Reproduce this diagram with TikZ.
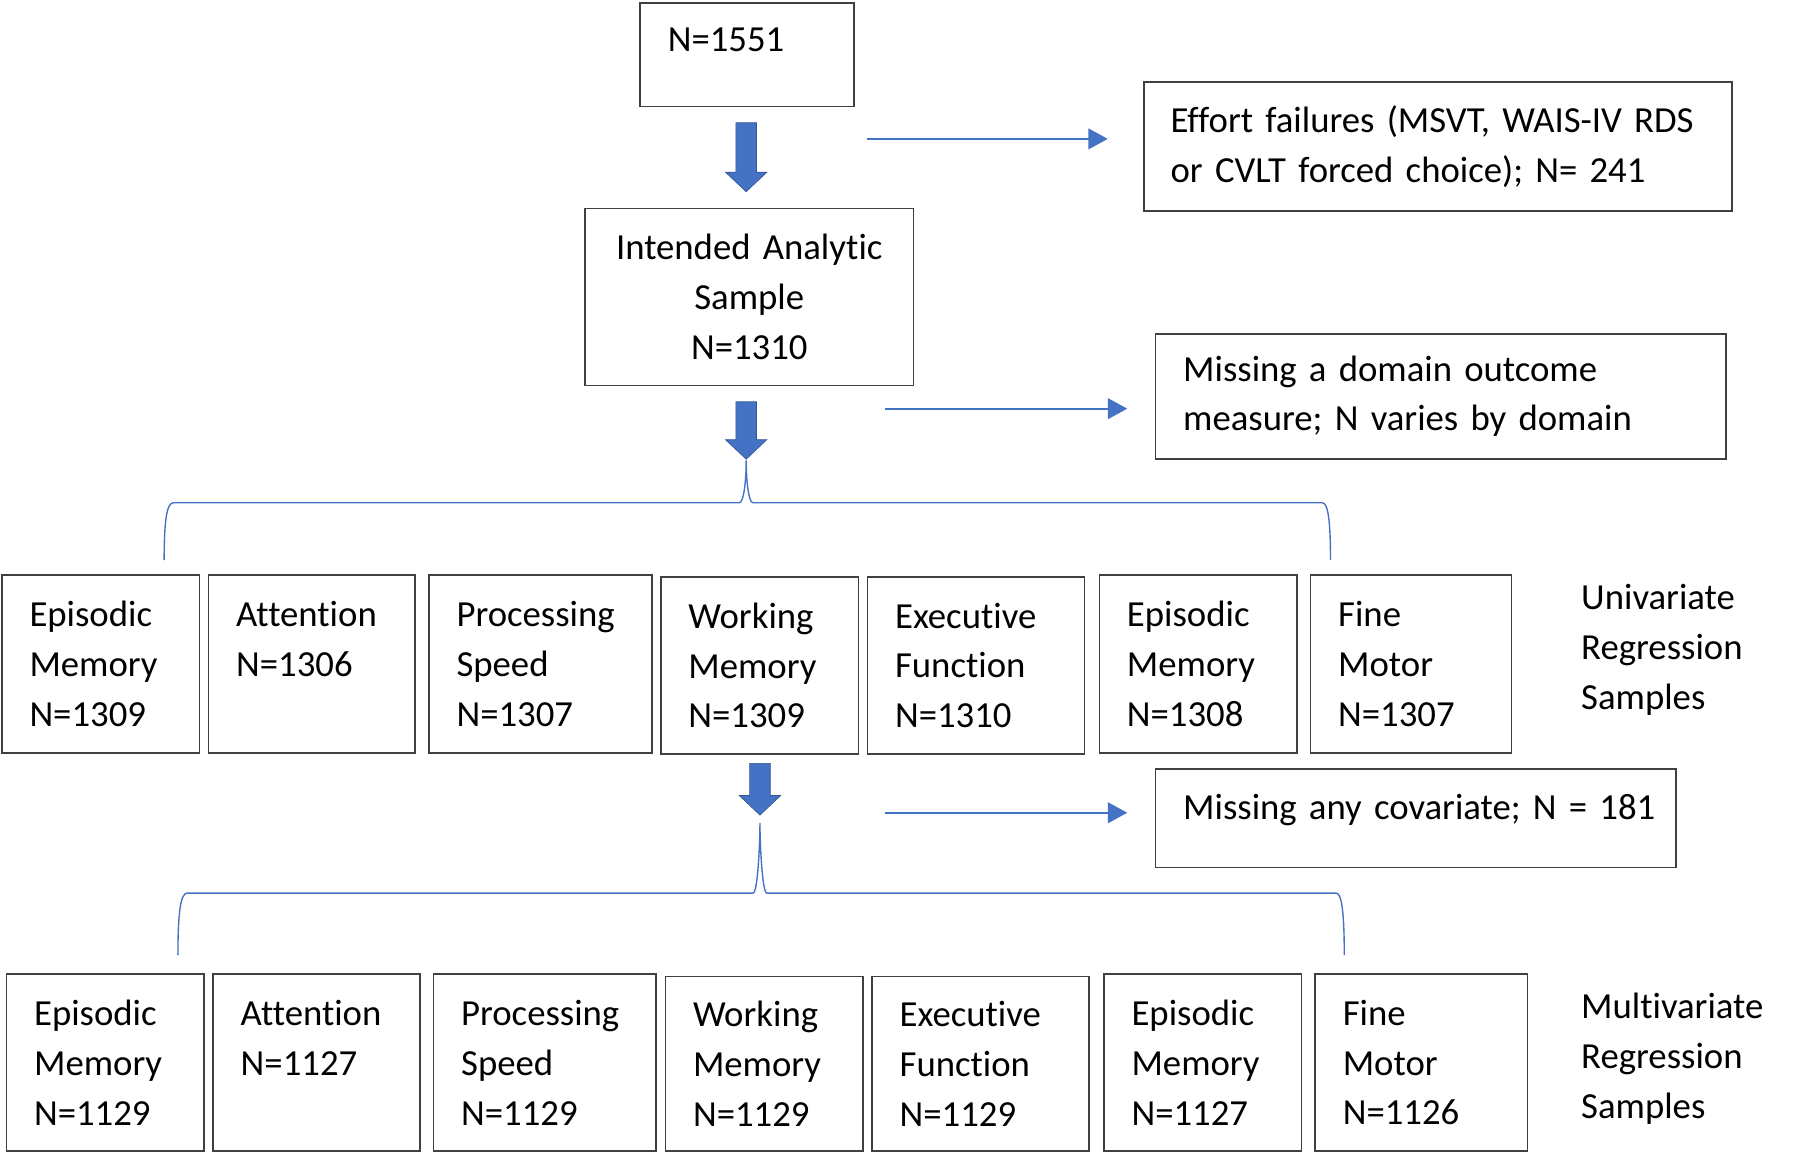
\documentclass[tikz,border=0pt]{standalone}
\usepackage{fontspec}
\setmainfont{Carlito}[Ligatures=NoCommon]
\usepackage{tikz}
\usetikzlibrary{arrows.meta, positioning}
\definecolor{flowblue}{RGB}{68,114,196}
\definecolor{boxgray}{RGB}{64,64,64}
\tikzset{
	x=0.5pt, y=-0.5pt,
	box/.style={draw=boxgray, line width=0.7pt, rectangle, anchor=north west, align=left, inner xsep=12pt, inner ysep=0pt},
	sidetext/.style={align=left, anchor=west, inner sep=0pt},
	bigarrow/.style={fill=flowblue, draw=flowblue!75!black, line width=0.3pt},
	thinarrow/.style={draw=flowblue, line width=1pt, -{Triangle[length=8.5pt,width=9pt]}},
	bracket/.style={draw=flowblue, line width=0.6pt},
}

\begin{document}
\begin{tikzpicture}[font=\fontsize{16}{21.7}\selectfont]
			\useasboundingbox (0,0) rectangle (1568,1005);
			
			\node[box, text width=69pt, minimum height=45pt, text height=10.5pt, text depth=13pt] (N1551) at (557,2) {N=1551};
			\node[box, inner xsep=11.5pt, text width=233pt, minimum height=56pt] (EFFORT) at (996,71) {Effort failures (MSVT, WAIS-IV RDS\\or CVLT forced choice); N= 241};
			\node[box, align=center, inner xsep=4pt, text width=135pt, minimum height=77pt] (INTENDED) at (509,181) {Intended Analytic\\Sample\\N=1310};
			\node[box, text width=224.5pt, minimum height=54.5pt] (DOMAIN) at (1006,290) {Missing a domain outcome\\measure; N varies by domain};
			\node[box, text width=202.5pt, minimum height=43pt, text height=10.5pt, text depth=9.5pt] (COVARIATE) at (1006,669) {\mbox{Missing any covariate; N = 181}};
			
			\node[box, text width=62pt, minimum height=77.5pt] (U1) at (1,500) {Episodic\\Memory\\N=1309};
			\node[box, text width=66pt, minimum height=77.5pt] (U2) at (181,500) {Attention\\N=1306\\\mbox{}};
			\node[box, text width=73pt, minimum height=77.5pt] (U3) at (373,500) {Processing\\Speed\\N=1307};
			\node[box, text width=62pt, minimum height=77pt] (U4) at (575,502) {Working\\Memory\\N=1309};
			\node[box, text width=70.5pt, minimum height=77pt] (U5) at (755,502) {Executive\\Function\\N=1310};
			\node[box, text width=62pt, minimum height=77.5pt] (U6) at (957,500) {Episodic\\Memory\\N=1308};
			\node[box, text width=63.5pt, minimum height=77.5pt] (U7) at (1141,500) {Fine\\Motor\\N=1307};
			\node[sidetext] (UNI) at (1377,566) {Univariate\\Regression\\Samples};
			
			\node[box, text width=62pt, minimum height=77pt] (M1) at (5,848) {Episodic\\Memory\\N=1129};
			\node[box, text width=66pt, minimum height=77pt] (M2) at (185,848) {Attention\\N=1127\\\mbox{}};
			\node[box, text width=73pt, minimum height=77pt] (M3) at (377,848) {Processing\\Speed\\N=1129};
			\node[box, text width=62pt, minimum height=76pt] (M4) at (579,850) {Working\\Memory\\N=1129};
			\node[box, text width=70.5pt, minimum height=76pt] (M5) at (759,850) {Executive\\Function\\N=1129};
			\node[box, text width=62pt, minimum height=77pt] (M6) at (961,848) {Episodic\\Memory\\N=1127};
			\node[box, text width=68.5pt, minimum height=77pt] (M7) at (1145,848) {Fine\\Motor\\N=1126};
			\node[sidetext] (MULTI) at (1377,922) {Multivariate\\Regression\\Samples};
			
			\coordinate (B1) at (650,107);
			\coordinate (B2) at (650,350);
			\coordinate (B3) at (662,665);
			\fill[bigarrow] (B1) ++(-9,0) -- ++(18,0) -- ++(0,43) -- ++(9,0) -- ++(-18,17) -- ++(-18,-17) -- ++(9,0) -- cycle;
			\fill[bigarrow] (B2) ++(-9,0) -- ++(18,0) -- ++(0,33) -- ++(9,0) -- ++(-18,17) -- ++(-18,-17) -- ++(9,0) -- cycle;
			\fill[bigarrow] (B3) ++(-9,0) -- ++(18,0) -- ++(0,28) -- ++(9,0) -- ++(-18,17) -- ++(-18,-17) -- ++(9,0) -- cycle;
			
			\coordinate (E1a) at (755,121);
			\coordinate (E1b) at (965,121);
			\coordinate (E2a) at (771,356);
			\coordinate (E2b) at (982,356);
			\coordinate (E3a) at (771,708);
			\coordinate (E3b) at (982,708);
			\draw[thinarrow] (E1a) -- (E1b);
			\draw[thinarrow] (E2a) -- (E2b);
			\draw[thinarrow] (E3a) -- (E3b);
			
			\draw[bracket] (143,488) .. controls (143,455) and (145,438) .. (151,438) -- (644,438) .. controls (648,438) and (650,418) .. (650,401) .. controls (650,418) and (652,438) .. (656,438) -- (1152,438) .. controls (1157,438) and (1159,455) .. (1159,488);
			\draw[bracket] (155,832) .. controls (155,797) and (157,778) .. (163,778) -- (656,778) .. controls (660,778) and (662,735) .. (662,717) .. controls (662,735) and (664,778) .. (668,778) -- (1164,778) .. controls (1169,778) and (1171,797) .. (1171,832);
			
\end{tikzpicture}
\end{document}
